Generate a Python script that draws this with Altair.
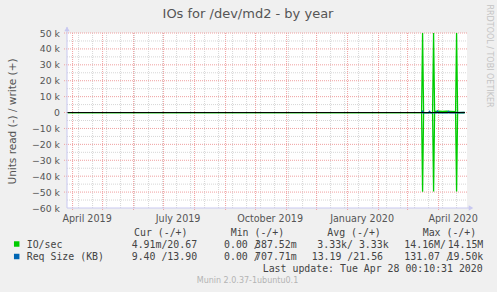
import altair as alt
import pandas as pd

# ---------------- data ----------------
io_dates = ["2019-03-27T00:00:00", "2020-03-15T00:00:00", "2020-03-16T00:00:00", "2020-03-17T00:00:00",
            "2020-03-26T00:00:00", "2020-03-27T00:00:00", "2020-03-28T00:00:00", "2020-04-01T00:00:00",
            "2020-04-05T00:00:00", "2020-04-09T00:00:00", "2020-04-13T00:00:00", "2020-04-18T00:00:00",
            "2020-04-19T00:00:00", "2020-04-20T00:00:00", "2020-04-27T00:00:00"]
io_write = [0, 0, 14150000, 0, 0, 14100000, 700, 900, 650, 800, 750, 500, 14050000, 0, 20.67]
io_read = [0, 0, 49800, 0, 0, 49700, 0, 0, 0, 0, 0, 0, 49600, 0, 0.005]

req_dates = ["2020-03-15T00:00:00", "2020-03-16T00:00:00", "2020-03-17T00:00:00", "2020-03-22T00:00:00",
             "2020-03-23T00:00:00", "2020-03-24T00:00:00", "2020-03-30T00:00:00", "2020-03-31T00:00:00",
             "2020-04-01T00:00:00", "2020-04-10T00:00:00", "2020-04-11T00:00:00", "2020-04-12T00:00:00",
             "2020-04-27T00:00:00"]
req_write = [0, 900, 0, 0, 800, 0, 0, 850, 0, 0, 700, 0, 13.9]
req_read = [0, 131, 0, 0, 0, 0, 0, 0, 0, 0, 0, 0, 9.4]

y_ticks = [-60000, -50000, -40000, -30000, -20000, -10000, 0, 10000, 20000, 30000, 40000, 50000]
y_minor = [-55000, -45000, -35000, -25000, -15000, -5000, 5000, 15000, 25000, 35000, 45000]
month_starts = pd.date_range("2019-04-01", "2020-04-01", freq="MS")
minor_dates = pd.date_range("2019-04-07", "2020-04-28", freq="14D")
x_label_dates = ["2019-04-15T00:00:00", "2019-07-15T00:00:00", "2019-10-15T00:00:00",
                 "2020-01-15T00:00:00", "2020-04-15T00:00:00"]

title_text = "IOs for /dev/md2 - by year"
y_title = "Units read (-) / write (+)"
headers = ["Cur (-/+)", "Min (-/+)", "Avg (-/+)", "Max (-/+)"]
series_names = ["IO/sec", "Req Size (KB)"]
series_colors = ["#00cc00", "#0066b3"]
io_stats = ["4.91m/20.67", "0.00 /", "387.52m", "3.33k/ 3.33k", "14.16M/", "14.15M"]
req_stats = ["9.40 /13.90", "0.00 /", "707.71m", "13.19 /21.56", "131.07 /", "19.50k"]
last_update = "Last update: Tue Apr 28 00:10:31 2020"
munin_text = "Munin 2.0.37-1ubuntu0.1"
rrd_text = "RRDTOOL / TOBI OETIKER"

# ---------------- layout ----------------
PL, PT, W, H = 67, 33, 400, 175
X_DOMAIN = [alt.DateTime(year=2019, month=3, date=26, hours=10),
            alt.DateTime(year=2020, month=4, date=29, hours=10)]
xs = alt.Scale(domain=X_DOMAIN)
ys = alt.Scale(domain=[-60000, 50000], clamp=True, nice=False, zero=False)
RED = "#f0a0a0"
GRAY = "#d6d6d6"
AXC = "#c8c8f0"
SANS = "DejaVu Sans"
MONO = "DejaVu Sans Mono"

io_df = pd.DataFrame({"date": pd.to_datetime(io_dates), "write": io_write,
                      "read": [-v for v in io_read]})
req_df = pd.DataFrame({"date": pd.to_datetime(req_dates), "write": req_write,
                       "read": [-v for v in req_read]})

# grid
minor_v = alt.Chart(pd.DataFrame({"d": minor_dates})).mark_rule(
    color=GRAY, strokeDash=[1, 1], strokeWidth=1).encode(
    x=alt.X("d:T", scale=xs, axis=None))
minor_h = alt.Chart(pd.DataFrame({"v": y_minor})).mark_rule(
    color=GRAY, strokeDash=[1, 1], strokeWidth=1).encode(
    y=alt.Y("v:Q", scale=ys, axis=None), x=alt.value(0), x2=alt.value(W))
major_v = alt.Chart(pd.DataFrame({"d": month_starts})).mark_rule(
    color=RED, strokeDash=[1, 1], strokeWidth=1).encode(
    x=alt.X("d:T", scale=xs, axis=None), y=alt.value(0), y2=alt.value(H + 2))
major_h = alt.Chart(pd.DataFrame({"v": y_ticks[1:]})).mark_rule(
    color=RED, strokeDash=[1, 1], strokeWidth=1).encode(
    y=alt.Y("v:Q", scale=ys, axis=None), x=alt.value(-3), x2=alt.value(W))

# axes (labels only)
x_axis = alt.Chart(pd.DataFrame({"d": pd.to_datetime(x_label_dates)})).mark_rule(opacity=0).encode(
    x=alt.X("d:T", scale=xs, axis=alt.Axis(
        values=[alt.DateTime(year=2019, month=4, date=15), alt.DateTime(year=2019, month=7, date=15),
                alt.DateTime(year=2019, month=10, date=15), alt.DateTime(year=2020, month=1, date=15),
                alt.DateTime(year=2020, month=4, date=15)],
        labelExpr="timeFormat(datum.value, '%B %Y')", grid=False, ticks=False, domain=False,
        labelFont=SANS, labelFontSize=9.6, labelColor="#555555", labelPadding=5,
        labelFlush=False, labelOverlap=False, title=None)))
y_axis = alt.Chart(pd.DataFrame({"v": y_ticks})).mark_rule(opacity=0).encode(
    y=alt.Y("v:Q", scale=ys, axis=alt.Axis(
        values=y_ticks,
        labelExpr="datum.value == 0 ? '0' : format(datum.value / 1000, 'd') + ' k'",
        grid=False, ticks=False, domain=False, labelFont=SANS, labelFontSize=9.3,
        labelColor="#555555", labelPadding=7.5, title=y_title, titleFont=SANS,
        titleFontSize=10.5, titleFontWeight="normal", titleColor="#555555",
        titleAngle=270, titleAlign="center", titleBaseline="middle",
        titleX=12 - PL, titleY=121 - PT)))

# data lines
def series(df, col, color):
    return alt.Chart(df).mark_line(color=color, strokeWidth=1.3, clip=True).encode(
        x=alt.X("date:T", scale=xs, axis=None), y=alt.Y(f"{col}:Q", scale=ys, axis=None))

io_w = series(io_df, "write", series_colors[0])
io_r = series(io_df, "read", series_colors[0])
rq_w = series(req_df, "write", series_colors[1])
rq_r = series(req_df, "read", series_colors[1])

zero = alt.Chart(pd.DataFrame({"v": [0]})).mark_rule(color="#000000", strokeWidth=1).encode(
    y=alt.Y("v:Q", scale=ys, axis=None), x=alt.value(0), x2=alt.value(W - 2))

# axis lines and arrows
y_line = alt.Chart(pd.DataFrame({"v": [0]})).mark_rule(color=AXC, strokeWidth=1).encode(
    x=alt.value(0), y=alt.value(-6), y2=alt.value(H))
x_line = alt.Chart(pd.DataFrame({"v": [0]})).mark_rule(color=AXC, strokeWidth=1).encode(
    x=alt.value(0), x2=alt.value(W + 5), y=alt.value(H))
y_arrow = alt.Chart(pd.DataFrame({"v": [0]})).mark_point(
    shape="triangle-up", filled=True, color=AXC, size=28, opacity=1).encode(
    x=alt.value(0), y=alt.value(-4))
x_arrow = alt.Chart(pd.DataFrame({"v": [0]})).mark_point(
    shape="triangle-right", filled=True, color=AXC, size=28, opacity=1).encode(
    x=alt.value(W + 4), y=alt.value(H))


def label(text, x, y, size=9.9, color="#444444", font=MONO, align="left", angle=0):
    return alt.Chart(pd.DataFrame({"t": [text]})).mark_text(
        font=font, fontSize=size, color=color, align=align, baseline="middle", angle=angle
    ).encode(text="t:N", x=alt.value(x - PL), y=alt.value(y - PT))


texts = [
    label(title_text, 248, 13.5, size=13, color="#555555", font=SANS, align="center"),
    label(rrd_text, 488.5, 56, size=8, color="#c4c4c4", font=SANS, align="center", angle=90),
    label(munin_text, 247.5, 281, size=8, color="#b4b4b4", font=SANS, align="center"),
    label(last_update, 482.7, 269, align="right"),
]
for hx, h in zip([134, 230.7, 327.3, 422.7], headers):
    texts.append(label(h, hx, 233))

row_y = [244.5, 257]
stat_rows = [io_stats, req_stats]
avg_x = [317.3, 311.7]
for i in range(2):
    st = stat_rows[i]
    ry = row_y[i]
    texts.append(label(series_names[i], 26.7, ry))
    texts.append(label(st[0], 131.7, ry))
    texts.append(label(st[1], 224, ry))
    texts.append(label(st[2], 296.7, ry, align="right"))
    texts.append(label(st[3], avg_x[i], ry))
    texts.append(label(st[4], 404.3, ry))
    texts.append(label(st[5], 483.3, ry, align="right"))
    texts.append(alt.Chart(pd.DataFrame({"v": [0]})).mark_square(
        color=series_colors[i], size=30, opacity=1).encode(
        x=alt.value(16.7 - PL), y=alt.value(ry - 0.5 - PT)))

chart = alt.layer(
    minor_v, minor_h, major_v, major_h, x_axis, y_axis,
    io_w, io_r, rq_w, rq_r, zero, y_line, x_line, y_arrow, x_arrow, *texts
).resolve_axis(x="independent", y="independent").properties(
    width=W, height=H, background="#f0f0f0",
    padding={"left": PL, "top": PT, "right": 497 - PL - W, "bottom": 292 - PT - H},
    autosize=alt.AutoSizeParams(type="none")
).configure_view(fill="white", stroke=None)

chart.save("out.html", embed_options={"renderer": "svg", "actions": False})
